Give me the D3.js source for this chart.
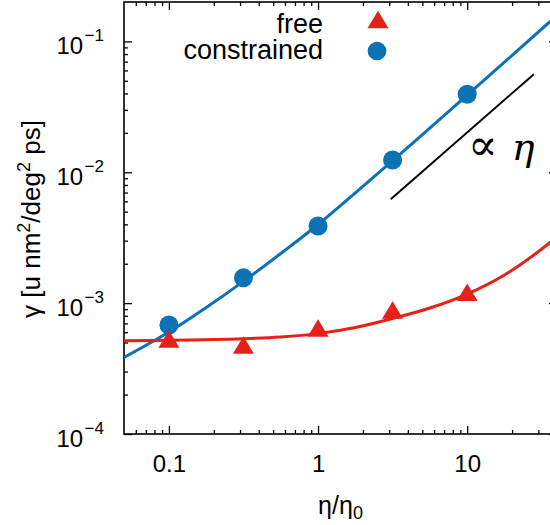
<!DOCTYPE html>
<html><head><meta charset="utf-8">
<script src="https://cdn.jsdelivr.net/npm/d3@7"></script>
<style>
body{margin:0;background:#fff}
text{font-family:"Liberation Sans",Arial,Helvetica,sans-serif;fill:#000}
</style>
</head><body>
<script>
// measured points
const etaPoints = [0.1, 0.316, 1, 3.16, 10];
const freeValues = [5.05e-4, 4.54e-4, 6.12e-4, 8.40e-4, 1.15e-3];
const constrainedValues = [6.81e-4, 1.56e-3, 3.88e-3, 1.239e-2, 3.94e-2];

// fitted curves
const constrainedFitEta = [0.05, 0.1, 0.178, 0.316, 0.562, 1, 3.16, 10, 40];
const constrainedFit = [3.84e-4, 6.01e-4, 9.26e-4, 1.467e-3, 2.393e-3, 3.99e-3, 1.2265e-2, 3.882e-2, 0.158];
const freeFitEta = [0.05, 0.1, 0.316, 0.562, 1, 1.778, 3.162, 5.623, 10, 17.78, 31.62, 40];
const freeFit = [5.17e-4, 5.205e-4, 5.346e-4, 5.508e-4, 5.848e-4, 6.51e-4, 7.63e-4, 9.18e-4, 1.173e-3, 1.64e-3, 2.591e-3, 3.232e-3];

// guide line with slope one
const slopeEta = [3.07, 28];
const slopeGamma = [0.00621, 0.0562];

const xMajorTicks = [0.1, 1, 10];
const xTickLabels = ["0.1", "1", "10"];
const yMajorTicks = [1e-4, 1e-3, 1e-2, 1e-1];
const yTickExponents = ["−4", "−3", "−2", "−1"];

const seriesNames = ["free", "constrained"];
const blue = "#0b72b6", red = "#e6211a";

const W = 550, H = 525;
const pLeft = 124, pRight = 557, pTop = 2, pBottom = 434;

const x = d3.scaleLog().domain([0.05, 40]).range([pLeft, pRight]);
const y = d3.scaleLog().domain([1e-4, 0.2]).range([pBottom, pTop]);

const svg = d3.select("body").append("svg").attr("width", W).attr("height", H);

svg.append("clipPath").attr("id", "plot").append("rect")
  .attr("x", pLeft).attr("y", pTop).attr("width", pRight - pLeft).attr("height", pBottom - pTop);

// minor tick values (2..9 per decade)
function minorTicks(domain) {
  const out = [];
  for (let e = -5; e <= 2; e++) for (let k = 2; k <= 9; k++) {
    const v = k * Math.pow(10, e);
    if (v > domain[0] * 1.0001 && v < domain[1] * 0.9999) out.push(v);
  }
  return out;
}
const xMinor = minorTicks(x.domain());
const yMinor = minorTicks(y.domain());

function axisStyle(g) {
  g.select(".domain").remove();
  g.selectAll(".tick line").attr("stroke", "#000").attr("stroke-width", 1.3);
}

// bottom & top
svg.append("g").attr("transform", `translate(0,${pBottom})`)
  .call(d3.axisBottom(x).tickValues(xMinor).tickSize(-4).tickFormat("")).call(axisStyle);
const gx = svg.append("g").attr("transform", `translate(0,${pBottom})`)
  .call(d3.axisBottom(x).tickValues(xMajorTicks).tickSize(-8).tickPadding(21)
    .tickFormat((d, i) => xTickLabels[i])).call(axisStyle);
gx.selectAll(".tick text").attr("font-size", 24).attr("font-family", "Liberation Sans, Arial, sans-serif").attr("fill", "#000");

svg.append("g").attr("transform", `translate(0,${pTop})`)
  .call(d3.axisTop(x).tickValues(xMinor).tickSize(-4).tickFormat("")).call(axisStyle);
svg.append("g").attr("transform", `translate(0,${pTop})`)
  .call(d3.axisTop(x).tickValues(xMajorTicks).tickSize(-8).tickFormat("")).call(axisStyle);

// left & right
svg.append("g").attr("transform", `translate(${pLeft},0)`)
  .call(d3.axisLeft(y).tickValues(yMinor).tickSize(-4).tickFormat("")).call(axisStyle);
const gy = svg.append("g").attr("transform", `translate(${pLeft},0)`)
  .call(d3.axisLeft(y).tickValues(yMajorTicks).tickSize(-8).tickFormat("")).call(axisStyle);
gy.selectAll(".tick text").remove();
gy.selectAll(".tick").each(function(d, i) {
  const t = d3.select(this).append("text")
    .attr("x", -20).attr("y", 12).attr("text-anchor", "end")
    .attr("font-size", 24).attr("fill", "#000")
    .attr("font-family", "Liberation Sans, Arial, sans-serif");
  t.append("tspan").text("10");
  t.append("tspan").attr("dx", 1.5).attr("dy", -13).attr("font-size", 17).text(yTickExponents[i]);
});

svg.append("g").attr("transform", `translate(${pRight},0)`)
  .call(d3.axisRight(y).tickValues(yMinor).tickSize(-4).tickFormat("")).call(axisStyle);
svg.append("g").attr("transform", `translate(${pRight},0)`)
  .call(d3.axisRight(y).tickValues(yMajorTicks).tickSize(-8).tickFormat("")).call(axisStyle);

// frame
svg.append("rect").attr("x", pLeft).attr("y", pTop).attr("width", pRight - pLeft).attr("height", pBottom - pTop)
  .attr("fill", "none").attr("stroke", "#000").attr("stroke-width", 1.6);

// axis titles
const xt = svg.append("text").attr("x", (pLeft + pRight) / 2).attr("y", 514)
  .attr("text-anchor", "middle").attr("font-size", 25);
xt.append("tspan").text("η/η");
xt.append("tspan").attr("dy", 5).attr("font-size", 18).text("0");

const yt = svg.append("text").attr("transform", `translate(40,${(pTop + pBottom) / 2 + 1}) rotate(-90)`)
  .attr("text-anchor", "middle").attr("font-size", 26);
yt.append("tspan").text("γ [u nm");
yt.append("tspan").attr("dy", -10).attr("font-size", 18).text("2");
yt.append("tspan").attr("dy", 10).text("/deg");
yt.append("tspan").attr("dy", -10).attr("font-size", 18).text("2");
yt.append("tspan").attr("dy", 10).text(" ps]");

// plot contents
const plot = svg.append("g").attr("clip-path", "url(#plot)");
const line = d3.line().x(d => x(d[0])).y(d => y(d[1])).curve(d3.curveCatmullRom.alpha(0.5));

plot.append("path").datum(d3.zip(constrainedFitEta, constrainedFit)).attr("d", line)
  .attr("fill", "none").attr("stroke", blue).attr("stroke-width", 3);
plot.append("path").datum(d3.zip(freeFitEta, freeFit)).attr("d", line)
  .attr("fill", "none").attr("stroke", red).attr("stroke-width", 3);

plot.append("path").datum(d3.zip(slopeEta, slopeGamma)).attr("d", d3.line().x(d => x(d[0])).y(d => y(d[1])))
  .attr("fill", "none").attr("stroke", "#000").attr("stroke-width", 2);

function tri(cx, cy) {
  const w = 21, h = 17.5;
  return `M${cx},${cy - h * 2 / 3}L${cx + w / 2},${cy + h / 3}L${cx - w / 2},${cy + h / 3}Z`;
}

plot.selectAll("circle.c").data(d3.zip(etaPoints, constrainedValues)).join("circle")
  .attr("class", "c").attr("cx", d => x(d[0])).attr("cy", d => y(d[1])).attr("r", 9.5).attr("fill", blue);
plot.selectAll("path.f").data(d3.zip(etaPoints, freeValues)).join("path")
  .attr("class", "f").attr("d", d => tri(x(d[0]), y(d[1]))).attr("fill", red);

// proportionality note
const note = svg.append("text").attr("x", 468).attr("y", 160)
  .style("font-family", "DejaVu Serif, serif");
note.append("tspan").attr("font-size", 44).text("∝");
note.append("tspan").attr("dx", 14).attr("font-size", 38).attr("font-style", "italic").text("η");

// legend
svg.append("text").attr("x", 323).attr("y", 33).attr("text-anchor", "end").attr("font-size", 27).text(seriesNames[0]);
svg.append("path").attr("d", tri(378, 22.5)).attr("fill", red);
svg.append("text").attr("x", 323).attr("y", 59).attr("text-anchor", "end").attr("font-size", 27).text(seriesNames[1]);
svg.append("circle").attr("cx", 377).attr("cy", 51).attr("r", 9.3).attr("fill", blue);
</script>
</body></html>
